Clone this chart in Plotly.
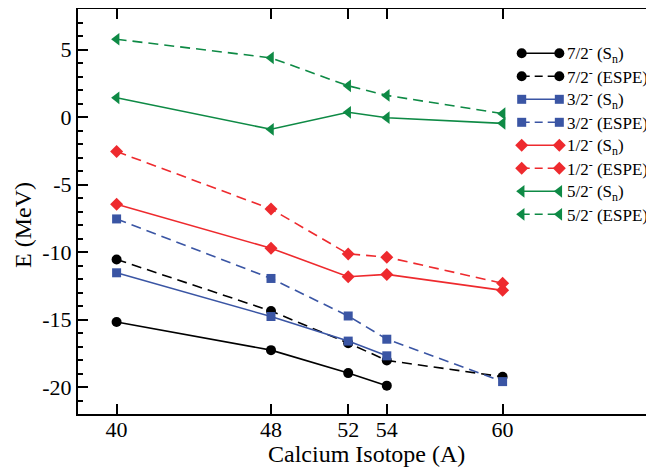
import plotly.graph_objects as go

# ---------------- data ----------------
isotopes = [40, 48, 52, 54, 60]
isotopes_short = [40, 48, 52, 54]

f72_sn = [-15.18, -17.27, -18.97, -19.90]
f72_espe = [-10.55, -14.37, -16.75, -18.03, -19.24]
p32_sn = [-11.54, -14.78, -16.60, -17.69]
p32_espe = [-7.55, -11.96, -14.74, -16.46, -19.60]
p12_sn = [-6.47, -9.72, -11.83, -11.66, -12.84]
p12_espe = [-2.56, -6.81, -10.14, -10.38, -12.32]
f52_sn = [1.42, -0.91, 0.35, -0.05, -0.47]
f52_espe = [5.76, 4.38, 2.31, 1.60, 0.25]

x_ticks = [40, 48, 52, 54, 60]
y_ticks = [5, 0, -5, -10, -15, -20]

labels = [
    "7/2<sup>-</sup> (S<sub>n</sub>)",
    "7/2<sup>-</sup> (ESPE)",
    "3/2<sup>-</sup> (S<sub>n</sub>)",
    "3/2<sup>-</sup> (ESPE)",
    "1/2<sup>-</sup> (S<sub>n</sub>)",
    "1/2<sup>-</sup> (ESPE)",
    "5/2<sup>-</sup> (S<sub>n</sub>)",
    "5/2<sup>-</sup> (ESPE)",
]

BLACK = "#000000"
BLUE = "#3A55A4"
RED = "#EE2A2E"
GREEN = "#0E8A45"
DASH = "10px,6px"
FONT = "'Liberation Serif', 'Times New Roman', Times, 'DejaVu Serif', serif"

series = [
    (isotopes_short, f72_sn, BLACK, "solid", "circle", 10),
    (isotopes, f72_espe, BLACK, DASH, "circle", 10),
    (isotopes_short, p32_sn, BLUE, "solid", "square", 9),
    (isotopes, p32_espe, BLUE, DASH, "square", 9),
    (isotopes, p12_sn, RED, "solid", "diamond", 10),
    (isotopes, p12_espe, RED, DASH, "diamond", 10),
    (isotopes, f52_sn, GREEN, "solid", "triangle-left", 11),
    (isotopes, f52_espe, GREEN, DASH, "triangle-left", 11),
]

fig = go.Figure()
for (xs, ys, col, dash, sym, size), lab in zip(series, labels):
    fig.add_trace(go.Scatter(
        x=xs, y=ys, mode="lines+markers",
        line=dict(color=col, width=1.6, dash=dash),
        marker=dict(color=col, symbol=sym, size=size, line=dict(width=0)),
        showlegend=False, cliponaxis=False,
    ))

# custom legend (sample line with markers at both ends), on auxiliary axes
for i, ((xs, ys, col, dash, sym, size), lab) in enumerate(zip(series, labels)):
    fig.add_trace(go.Scatter(
        x=[0, 1], y=[i, i], xaxis="x2", yaxis="y2", mode="lines+markers",
        line=dict(color=col, width=1.6, dash="8px,5px" if dash != "solid" else "solid"),
        marker=dict(color=col, symbol=sym, size=size, line=dict(width=0)),
        showlegend=False, hoverinfo="skip", cliponaxis=False,
    ))
    fig.add_annotation(
        x=1, y=i, xref="x2", yref="y2", text=lab, showarrow=False,
        xanchor="left", yanchor="middle", xshift=6,
        font=dict(family=FONT, size=17, color="black"),
    )

# axis titles as annotations (exact placement)
fig.add_annotation(
    x=0.4991, y=-0.0988, xref="paper", yref="paper", text="Calcium Isotope (A)",
    showarrow=False, xanchor="center", yanchor="middle",
    font=dict(family=FONT, size=24, color="black"),
)
fig.add_annotation(
    x=-0.095, y=0.4667, xref="paper", yref="paper", text="E (MeV)",
    showarrow=False, xanchor="center", yanchor="middle", textangle=-90,
    font=dict(family=FONT, size=24, color="black"),
)

axis_common = dict(
    showline=True, linecolor="black", linewidth=2,
    ticks="inside", tickcolor="black", tickwidth=2, ticklen=10,
    mirror="ticks", showgrid=False, zeroline=False, automargin=False,
    tickfont=dict(family=FONT, size=22, color="black"),
)

fig.update_layout(
    width=654, height=468,
    margin=dict(l=70, r=5, t=1, b=62, autoexpand=False),
    paper_bgcolor="white", plot_bgcolor="white",
    font=dict(family=FONT),
    xaxis=dict(
        range=[38, 68], tickvals=x_ticks, ticktext=[str(v) for v in x_ticks],
        ticklabelstandoff=-5,
        **axis_common,
    ),
    yaxis=dict(
        range=[-22, 8], tickvals=y_ticks, ticktext=[str(v) for v in y_ticks],
        minor=dict(dtick=1, ticks="inside", ticklen=5, tickwidth=1.5, tickcolor="black", showgrid=False),
        **axis_common,
    ),
    xaxis2=dict(domain=[0.7663, 0.8313], range=[0, 1], visible=False, anchor="y2", fixedrange=True),
    yaxis2=dict(domain=[0.4647, 0.919], range=[7.5, -0.5], visible=False, anchor="x2", fixedrange=True),
    showlegend=False,
)

fig.write_html("out.html")
